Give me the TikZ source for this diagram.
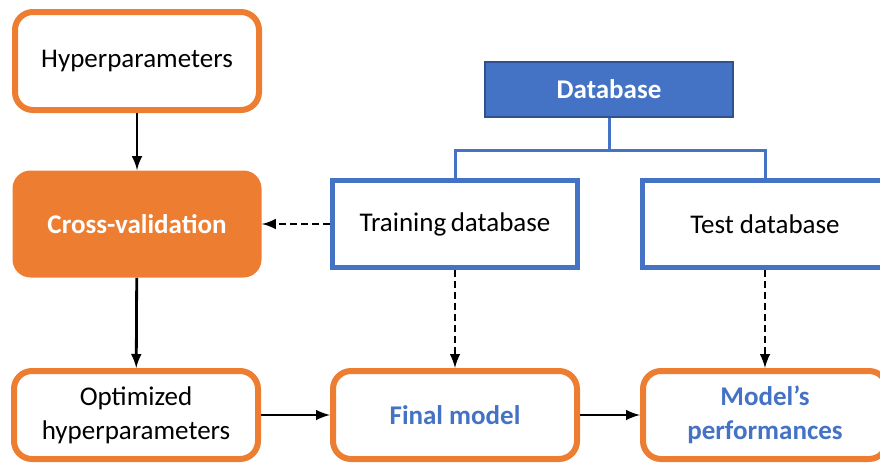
\documentclass[tikz,border=0pt]{standalone}
\usepackage{fontspec}
\setmainfont{Carlito}
\usepackage{tikz}
\usetikzlibrary{arrows}

\definecolor{cvorange}{HTML}{ED7D31}
\definecolor{dbblue}{HTML}{4472C4}
\definecolor{dbdark}{HTML}{2F528F}

\begin{document}
\begin{tikzpicture}
    [
    x=0.5pt, y=-0.5pt,
    every node/.style={font=\fontsize{13.5}{17}\selectfont, align=center},
    stepbox/.style={rectangle,rounded corners=9pt,draw=cvorange,line width=3pt,fill=white,minimum width=122pt,minimum height=49pt},
    cvbox/.style={rectangle,rounded corners=9pt,fill=cvorange,minimum width=124.5pt,minimum height=53.5pt,text=white,font=\fontsize{13.5}{17}\selectfont\bfseries},
    setbox/.style={rectangle,draw=dbblue,line width=2.5pt,fill=white,minimum width=122.5pt,minimum height=43.5pt},
    dbbox/.style={rectangle,draw=dbdark,line width=0.8pt,fill=dbblue,minimum width=124pt,minimum height=27.5pt,text=white,font=\fontsize{13.5}{17}\selectfont\bfseries},
    flow/.style={-latex,line width=1.4pt},
    feed/.style={-latex,line width=1.4pt,dash pattern=on 3.5pt off 2pt},
    tree/.style={draw=dbblue,line width=1.5pt}
    ]
    \useasboundingbox (0,0) rectangle (880,462);
    \clip (0,0) rectangle (880,462);
    \node (hyper) at (137,61) [stepbox] {Hyperparameters};
    \node (cv) at (137,224) [cvbox] {Cross-validation};
    \node (opt) at (136,415) [stepbox,minimum height=44pt] {Optimized\\hyperparameters};
    \node (final) at (455,415) [stepbox,minimum height=44pt,text=dbblue,font=\fontsize{13.5}{17}\selectfont\bfseries] {Final model};
    \node (perf) at (765,415) [stepbox,minimum height=44pt,text=dbblue,font=\fontsize{13.5}{17}\selectfont\bfseries] {Model’s\\performances};
    \node (db) at (609,89.5) [dbbox] {Database};
    \node (train) at (455,224) [setbox] {Training\,database};
    \node (test) at (765,224) [setbox] {Test database};
    \draw [tree] (db.south) -- ++(0,33) -| (train.north);
    \draw [tree] (db.south) -- ++(0,33) -| (test.north);
    \draw [flow] (hyper) to (cv);
    \draw [flow] (cv) to (opt);
    \draw [flow] (opt) to (final);
    \draw [flow] (final) to (perf);
    \draw [feed] (train) to (cv);
    \draw [feed] (train) to (final);
    \draw [feed] (test) to (perf);
  \end{tikzpicture}
\end{document}
